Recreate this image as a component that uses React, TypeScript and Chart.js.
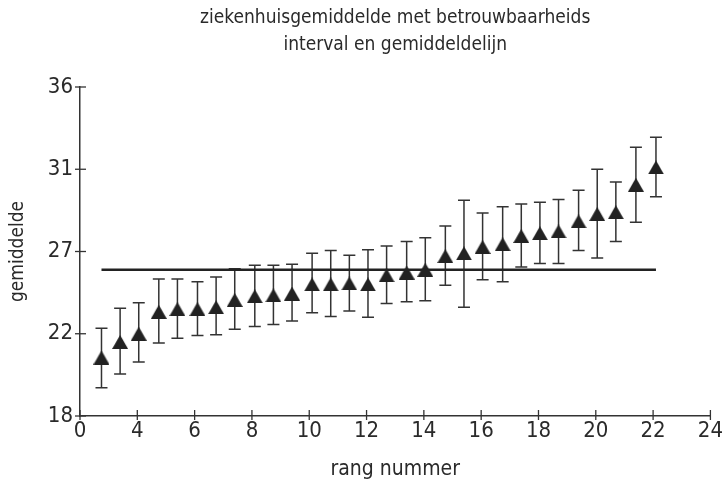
import { useEffect, useRef } from "react";
import { Chart, registerables } from "chart.js";

Chart.register(...registerables);

// ---- data ----
const titleLines = ["ziekenhuisgemiddelde met betrouwbaarheids", "interval en gemiddeldelijn"];
const xAxisTitle = "rang nummer";
const yAxisTitle = "gemiddelde";

const rankX = [2.75, 3.4, 4.05, 4.75, 5.4, 6.1, 6.75, 7.4, 8.1, 8.75, 9.4, 10.1, 10.75, 11.4, 12.05, 12.7, 13.4, 14.05, 14.75, 15.4, 16.05, 16.75, 17.4, 18.05, 18.7, 19.4, 20.05, 20.7, 21.4, 22.1];
const means = [21.2, 22.05, 22.5, 23.7, 23.85, 23.85, 23.95, 24.35, 24.55, 24.6, 24.7, 25.2, 25.2, 25.25, 25.2, 25.7, 25.85, 26.0, 26.75, 26.9, 27.25, 27.4, 27.85, 28.0, 28.1, 28.65, 29.05, 29.15, 30.65, 31.6];
const lower = [19.55, 20.3, 20.95, 22.0, 22.25, 22.4, 22.45, 22.75, 22.9, 23.0, 23.2, 23.65, 23.45, 23.75, 23.4, 24.15, 24.25, 24.3, 25.15, 23.95, 25.45, 25.35, 26.15, 26.35, 26.35, 27.05, 26.65, 27.55, 28.6, 30.0];
const upper = [22.8, 23.9, 24.2, 25.5, 25.5, 25.35, 25.6, 26.05, 26.25, 26.25, 26.3, 26.9, 27.05, 26.8, 27.1, 27.3, 27.55, 27.75, 28.4, 29.8, 29.1, 29.45, 29.6, 29.7, 29.85, 30.35, 31.5, 30.8, 32.7, 33.25];

const overallMean = 26.0;
const meanLineX = [2.75, 22.1];

const xTickLabels = ["0", "4", "6", "8", "10", "12", "14", "16", "18", "20", "22", "24"];
const yTickLabels = ["18", "22", "27", "31", "36"];

const FONT = "'DejaVu Sans Condensed', 'Liberation Sans', sans-serif";
const INK = "#2a2a2a";

const errorBarPlugin = {
  id: "errorBars",
  beforeDatasetsDraw(chart: any) {
    const { ctx, scales } = chart;
    const xs = scales.x;
    const ys = scales.y;
    ctx.save();
    ctx.strokeStyle = "#333";
    ctx.lineWidth = 1.5;
    const cap = 6;
    for (let i = 0; i < rankX.length; i++) {
      const px = xs.getPixelForValue(rankX[i]);
      const pTop = ys.getPixelForValue(upper[i]);
      const pBot = ys.getPixelForValue(lower[i]);
      ctx.beginPath();
      ctx.moveTo(px, pTop);
      ctx.lineTo(px, pBot);
      ctx.moveTo(px - cap, pTop);
      ctx.lineTo(px + cap, pTop);
      ctx.moveTo(px - cap, pBot);
      ctx.lineTo(px + cap, pBot);
      ctx.stroke();
    }
    ctx.restore();
  },
};

const crossTicksPlugin = {
  id: "crossTicks",
  afterDatasetsDraw(chart: any) {
    const { ctx, scales, chartArea } = chart;
    ctx.save();
    ctx.strokeStyle = "#333";
    ctx.lineWidth = 1.3;
    const xs = scales.x;
    xs.ticks.forEach((_t: any, i: number) => {
      const px = xs.getPixelForTick(i);
      ctx.beginPath();
      ctx.moveTo(px, chartArea.bottom - 6);
      ctx.lineTo(px, chartArea.bottom + 4);
      ctx.stroke();
    });
    const ys = scales.y;
    ys.ticks.forEach((_t: any, i: number) => {
      const py = ys.getPixelForTick(i);
      ctx.beginPath();
      ctx.moveTo(chartArea.left - 5, py);
      ctx.lineTo(chartArea.left + 6, py);
      ctx.stroke();
    });
    ctx.restore();
  },
};

export default function App() {
  const ref = useRef<HTMLCanvasElement | null>(null);

  useEffect(() => {
    if (!ref.current) return;
    const tri = document.createElement("canvas");
    tri.width = 16;
    tri.height = 14;
    const tc = tri.getContext("2d")!;
    tc.fillStyle = "#222";
    tc.beginPath();
    tc.moveTo(8, 0);
    tc.lineTo(16, 14);
    tc.lineTo(0, 14);
    tc.closePath();
    tc.fill();

    const chart = new Chart(ref.current, {
      type: "scatter",
      data: {
        datasets: [
          {
            type: "line",
            data: meanLineX.map((x) => ({ x, y: overallMean })),
            borderColor: "#222",
            borderWidth: 2.5,
            pointRadius: 0,
            fill: false,
          } as any,
          {
            data: rankX.map((x, i) => ({ x, y: means[i] })),
            pointStyle: tri as any,
            pointRadius: 8,
            backgroundColor: "#222",
            borderColor: "#222",
          },
        ],
      },
      options: {
        responsive: false,
        animation: false,
        events: [],
        layout: { padding: { left: 0, right: 14, top: 0, bottom: 0 } },
        plugins: {
          legend: { display: false },
          tooltip: { enabled: false },
          title: {
            display: true,
            text: titleLines,
            color: INK,
            fullSize: false,
            font: { family: FONT, size: 19, weight: "normal", lineHeight: 27 / 19 },
            padding: { top: 4.5, bottom: 28.5 },
          } as any,
        },
        scales: {
          x: {
            type: "linear",
            min: 2,
            max: 24,
            grid: { display: false, drawTicks: false },
            border: { display: true, color: "#333", width: 1.5 },
            ticks: {
              stepSize: 2,
              color: INK,
              padding: 2,
              font: { family: FONT, size: 22 },
              callback: (_v: any, i: number) => xTickLabels[i],
            },
            title: {
              display: true,
              text: xAxisTitle,
              color: INK,
              font: { family: FONT, size: 21 },
              padding: { top: 0, bottom: 7.4 },
            },
            afterFit: (s: any) => {
              s.height = 74;
            },
          },
          y: {
            type: "linear",
            min: 18,
            max: 36,
            grid: { display: false, drawTicks: false },
            border: { display: true, color: "#333", width: 1.5 },
            ticks: {
              stepSize: 4.5,
              color: INK,
              padding: 7,
              font: { family: FONT, size: 22 },
              callback: (_v: any, i: number) => yTickLabels[i],
            },
            title: {
              display: true,
              text: yAxisTitle,
              color: INK,
              font: { family: FONT, size: 19 },
              padding: { top: 6.6, bottom: 0 },
            },
            afterFit: (s: any) => {
              s.width = 80;
            },
          },
        },
      },
      plugins: [errorBarPlugin, crossTicksPlugin],
    });
    return () => chart.destroy();
  }, []);

  return (
    <div style={{ position: "fixed", left: 0, top: 0, width: 725, height: 490, background: "#fff" }}>
      <canvas ref={ref} width={725} height={490} />
    </div>
  );
}
